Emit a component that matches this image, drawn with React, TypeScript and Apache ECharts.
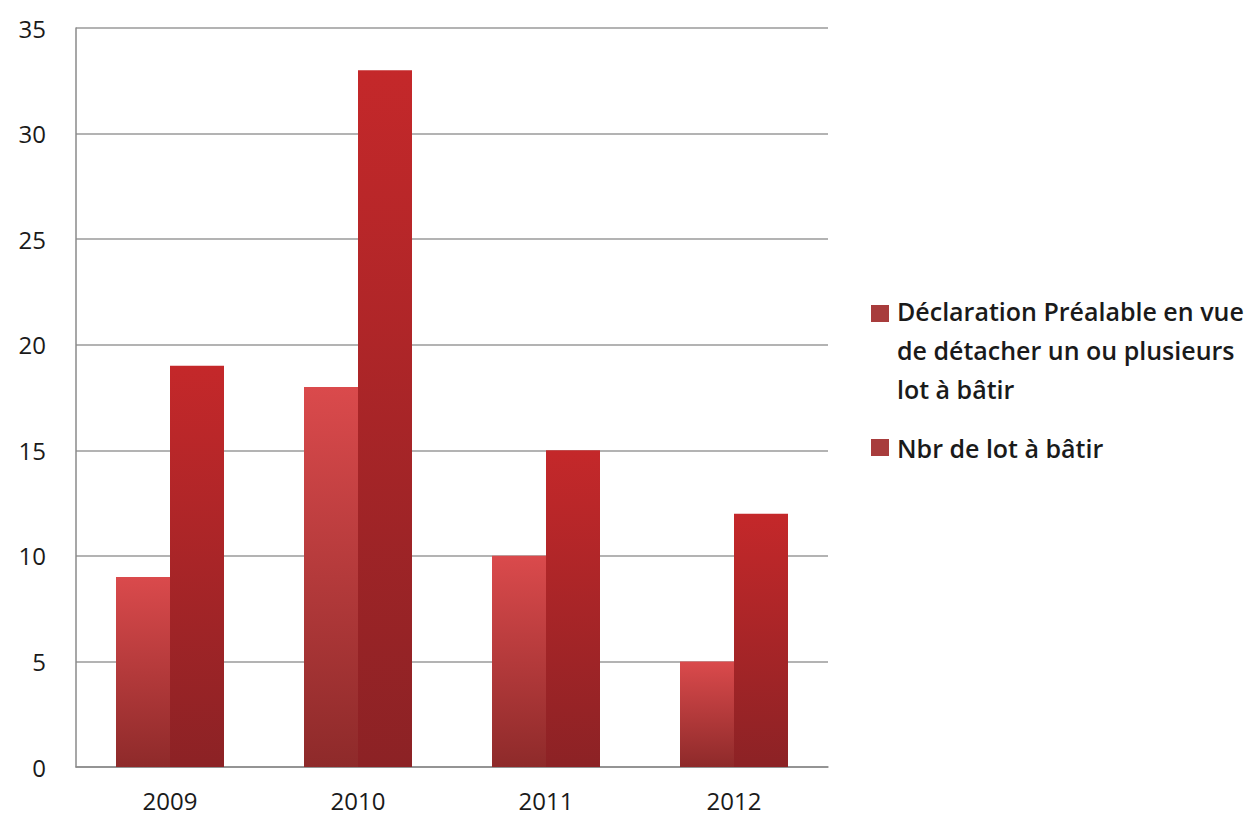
import React, { useEffect, useRef } from "react";
import * as echarts from "echarts";

const categories = ["2009", "2010", "2011", "2012"];
const seriesNames = [
  "Déclaration Préalable en vue\nde détacher un ou plusieurs\nlot à bâtir",
  "Nbr de lot à bâtir",
];
const declarationValues = [9, 18, 10, 5];
const lotValues = [19, 33, 15, 12];
const yTicks = { min: 0, max: 35, interval: 5 };

const FONT = "'Open Sans', 'Noto Sans', sans-serif";

export default function App() {
  const ref = useRef<HTMLDivElement>(null);
  useEffect(() => {
    if (!ref.current) return;
    const chart = echarts.init(ref.current, null, { renderer: "svg" });
    const grad = (top: string, bottom: string) =>
      new echarts.graphic.LinearGradient(0, 0, 0, 1, [
        { offset: 0, color: top },
        { offset: 1, color: bottom },
      ]);
    chart.setOption({
      animation: false,
      backgroundColor: "#ffffff",
      grid: { left: 76, right: 428, top: 28, bottom: 49, containLabel: false },
      xAxis: {
        type: "category",
        data: categories,
        axisLine: { lineStyle: { color: "#8a8a8a", width: 1.5 } },
        axisTick: { show: false },
        axisLabel: {
          color: "#1a1a1a",
          fontFamily: FONT,
          fontSize: 24,
          margin: 21,
        },
      },
      yAxis: {
        type: "value",
        min: yTicks.min,
        max: yTicks.max,
        interval: yTicks.interval,
        axisLine: { show: true, lineStyle: { color: "#8a8a8a", width: 1.5 } },
        axisTick: { show: false },
        splitLine: { lineStyle: { color: "#9a9a9a", width: 1.5 } },
        axisLabel: {
          color: "#1a1a1a",
          fontFamily: FONT,
          fontSize: 24,
          margin: 30,
        },
      },
      series: [
        {
          name: seriesNames[0],
          type: "bar",
          data: declarationValues,
          barWidth: 54,
          barGap: "0%",
          itemStyle: { color: grad("#da4a4c", "#8e2a2a") },
        },
        {
          name: seriesNames[1],
          type: "bar",
          data: lotValues,
          barWidth: 54,
          barGap: "0%",
          itemStyle: { color: grad("#c4282a", "#8c2225") },
        },
      ],
      graphic: [
        {
          type: "rect",
          shape: { x: 871, y: 305, width: 18, height: 17 },
          style: { fill: "#a83c3c" },
        },
        {
          type: "text",
          x: 897,
          y: 291,
          style: {
            text: seriesNames[0],
            font: `600 25px ${FONT}`,
            fill: "#1a1a1a",
            lineHeight: 39,
            verticalAlign: "top",
            align: "left",
          },
        },
        {
          type: "rect",
          shape: { x: 871, y: 439, width: 18, height: 17 },
          style: { fill: "#a83c3c" },
        },
        {
          type: "text",
          x: 897,
          y: 428,
          style: {
            text: seriesNames[1],
            font: `600 25px ${FONT}`,
            fill: "#1a1a1a",
            lineHeight: 39,
            verticalAlign: "top",
            align: "left",
          },
        },
      ],
    });
    return () => chart.dispose();
  }, []);
  return (
    <div
      ref={ref}
      style={{ position: "fixed", left: 0, top: 0, width: 1256, height: 816, background: "#fff" }}
    />
  );
}
